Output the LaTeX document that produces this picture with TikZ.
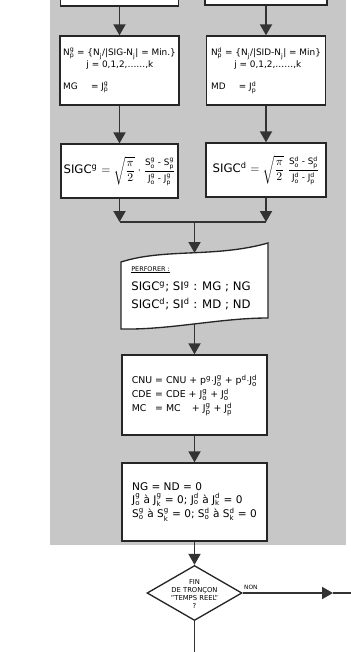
\documentclass[tikz,border=0pt]{standalone}
\usepackage{amsmath}
\usepackage{fontspec}
\setmainfont{DejaVu Sans}
\usetikzlibrary{arrows.meta,positioning,shapes.geometric}

% exponent / index pair set in the text font
\newcommand\ix[2]{\ensuremath{^{\text{#1}}_{\text{#2}}}}
% small text inside a fraction
\newcommand\petit[1]{\text{\fontsize{7.5}{9}\selectfont #1}}

\begin{document}
\begin{tikzpicture}[
    x=0.3mm, y=-0.3mm,
    box/.style={draw=black!85, line width=0.4mm, fill=white, inner sep=0pt, align=left},
    flow/.style={draw=black!80, line width=0.55mm, -{Triangle[width=3.6mm,length=3.3mm]}},
    trait/.style={draw=black!80, line width=0.55mm}
]
% picture frame: 1 unit = 1 px of the scanned page
\useasboundingbox (0,0) rectangle (350,652);

% Shaded loop body
\fill[black!22] (50,-5) rectangle (346,545);

% Boxes above (cut by the page edge)
\node[box, minimum width=35.4mm, minimum height=12mm] (topg) at (119.5,-14) {};
\node[box, minimum width=36.6mm, minimum height=12mm] (topd) at (266,-15) {};

% Closest level, left and right
\node[box, minimum width=35.7mm, minimum height=20.7mm, font=\fontsize{7.6}{10}\selectfont] (ming) at (119.5,70.5)
  {N\ix{g}{p} = \{N\ix{}{j}/|SIG-N\ix{}{j}| = Min.\}\\
   \hspace*{7mm}j = 0,1,2,\dots\dots,k\\[3.2mm]
   MG\hspace{4mm}= J\ix{g}{p}};
\node[box, minimum width=35.7mm, minimum height=20.7mm, font=\fontsize{7.6}{10}\selectfont] (mind) at (266,70.5)
  {N\ix{d}{p} = \{N\ix{}{j}/|SID-N\ix{}{j}| = Min\}\\
   \hspace*{7mm}j = 0,1,2,\dots\dots,k\\[3.2mm]
   MD\hspace{4mm}= J\ix{d}{p}};

% Corrected sigma
\node[box, minimum width=35.1mm, minimum height=16.2mm, font=\fontsize{10}{12}\selectfont] (sigcg) at (119.5,171)
  {SIGC\ix{g}{} $=\sqrt{\dfrac{\pi}{2}}\cdot\dfrac{\petit{S\ix{g}{o} - S\ix{g}{p}}}{\petit{J\ix{g}{o} - J\ix{g}{p}}}$};
\node[box, minimum width=36mm, minimum height=16.2mm, font=\fontsize{10}{12}\selectfont] (sigcd) at (266,170)
  {SIGC\ix{d}{} $=\sqrt{\dfrac{\pi}{2}}\;\dfrac{\petit{S\ix{d}{o} - S\ix{d}{p}}}{\petit{J\ix{d}{o} - J\ix{d}{p}}}$};

% Join of both columns
\coordinate (mg) at (119.5,222);
\coordinate (md) at (266,222);
\coordinate (mc) at (194.5,222);

% Punched card
\draw[line width=0.4mm, draw=black!85, fill=white]
  (121,262) .. controls (165,248) and (215,258) .. (268,243) -- (268,318)
  .. controls (220,318) and (170,330) .. (121,329) -- cycle;
\coordinate (cardtop) at (194.5,253);
\coordinate (cardbot) at (194.5,324);
\node[inner sep=0pt, align=left, font=\fontsize{10}{15}\selectfont] (perfo) at (191,289)
  {{\fontsize{5.5}{6}\selectfont\underline{PERFORER :}}\\[0.6mm]
   SIGC\ix{g}{}; SI\ix{g}{} : MG ; NG\\
   SIGC\ix{d}{}; SI\ix{d}{} : MD ; ND};

% Running sums
\node[box, minimum width=43.5mm, minimum height=24mm, font=\fontsize{8}{12}\selectfont] (cumul) at (194.5,395)
  {\begin{tabular}{@{}l@{ }l@{}}
   CNU & = CNU + p\ix{g}{}$\cdot$J\ix{g}{o} + p\ix{d}{}$\cdot$J\ix{d}{o}\\
   CDE & = CDE + J\ix{g}{o} + J\ix{d}{o}\\
   MC  & = MC\hspace{2.5mm} + J\ix{g}{p} + J\ix{d}{p}
   \end{tabular}};

% Reset
\node[box, minimum width=43.5mm, minimum height=23.4mm, font=\fontsize{9}{10.5}\selectfont] (raz) at (194.5,502)
  {NG = ND = 0\\
   J\ix{g}{o} à J\ix{g}{k} = 0; J\ix{d}{o} à J\ix{d}{k} = 0\\
   S\ix{g}{o} à S\ix{g}{k} = 0; S\ix{d}{o} à S\ix{d}{k} = 0};

% Test
\node[diamond, draw=black!85, line width=0.4mm, fill=white, minimum width=28.5mm, minimum height=16.5mm, inner sep=0pt] (fin) at (194.5,593) {};
\node[align=center, inner sep=0pt, font=\fontsize{5.8}{6.6}\selectfont] (fintxt) at (194.5,594)
  {FIN\\DE TRONÇON\\"TEMPS REEL"\\?};
\node[anchor=south west, inner sep=0pt, font=\fontsize{5}{6}\selectfont] (non) at (244,590) {NON};
\coordinate (nontip) at (333,593);
\coordinate (exit) at (352,593);
\coordinate (down) at (194.5,656);

% Connectors
\draw[flow] (topg) -- (ming);
\draw[flow] (topd) -- (mind);
\draw[flow] (ming) -- (sigcg);
\draw[flow] (mind) -- (sigcd);
\draw[flow] (sigcg) -- (mg);
\draw[flow] (sigcd) -- (md);
\draw[trait] (mg) -- (md);
\draw[flow] (mc) -- (cardtop);
\draw[flow] (cardbot) -- (cumul);
\draw[flow] (cumul) -- (raz);
\draw[flow] (raz) -- (fin);
\draw[flow] (fin.east) -- (nontip);
\draw[trait] (nontip) -- (exit);
\draw[trait] (fin.south) -- (down);
\end{tikzpicture}
\end{document}
